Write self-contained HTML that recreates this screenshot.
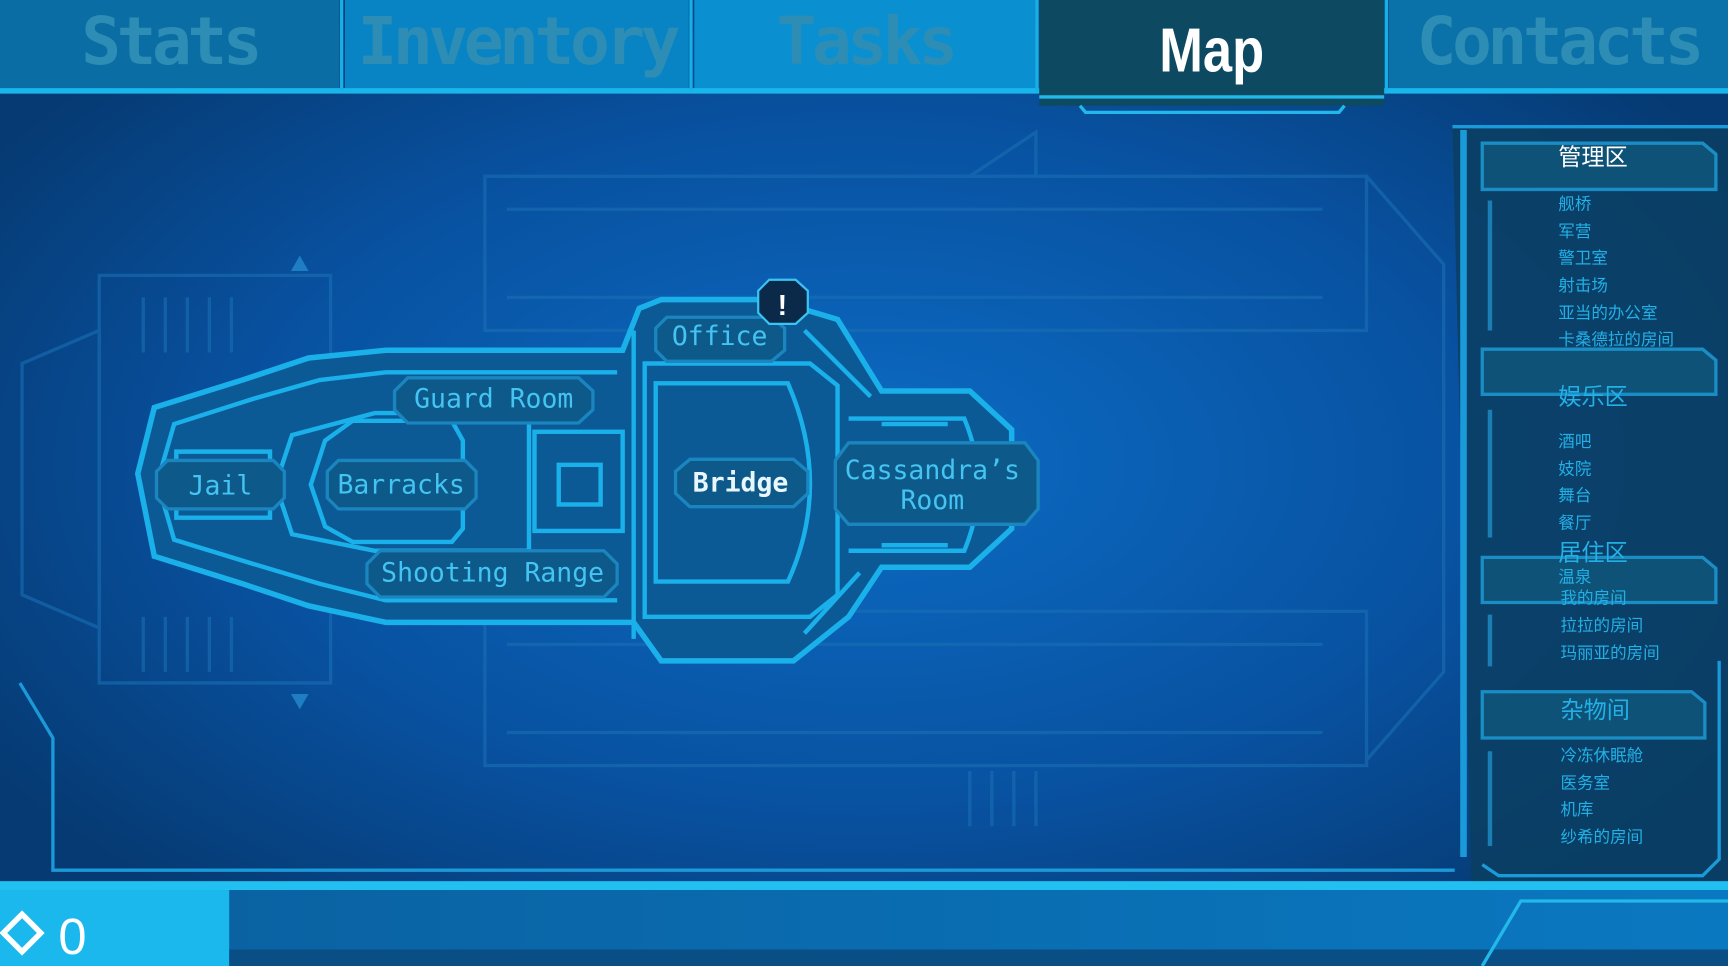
<!DOCTYPE html>
<html><head><meta charset="utf-8"><style>
html,body{margin:0;padding:0;width:1728px;height:966px;overflow:hidden;background:#063a70}
#w{position:absolute;left:0;top:0;width:1568px;height:877px;transform:scale(1.10204,1.1015);transform-origin:0 0;font-family:"Liberation Sans","Noto Sans CJK SC",sans-serif}
.tab{position:absolute;top:0;height:80px;color:#2d8db5;font-family:"DejaVu Sans Mono","Liberation Mono",monospace;font-weight:bold;font-size:60px;text-align:center;line-height:76px;letter-spacing:-4px}
.side{position:absolute;font-size:15px;color:#22b0e6;left:1414px}
.hd{position:absolute;font-size:21px;color:#22b0e6;}
</style></head><body><div id="w">
<svg width="1568" height="877" style="position:absolute;left:0;top:0">
<defs>
<radialGradient id="bg" cx="0.5" cy="0.48" r="0.6"><stop offset="0" stop-color="#0c6cc4"/><stop offset="0.6" stop-color="#0851a0"/><stop offset="1" stop-color="#063a72"/></radialGradient>
<linearGradient id="bot" x1="0" x2="1"><stop offset="0" stop-color="#0a5f9e"/><stop offset="1" stop-color="#0a78c0"/></linearGradient>
</defs>
<rect width="1568" height="877" fill="url(#bg)"/>
<g fill="none" stroke="#1a6fb4" stroke-width="3" opacity="0.6">
<rect x="440" y="160" width="800" height="140"/><rect x="440" y="555" width="800" height="140"/>
<path d="M460 190 H1200 M460 270 H1200 M460 585 H1200 M460 665 H1200"/>
<path d="M90 250 H300 V620 H90 Z"/><path d="M20 330 L90 300 V570 L20 540Z"/>
<path d="M130 270 V320 M150 270 V320 M170 270 V320 M190 270 V320 M210 270 V320 M130 560 V610 M150 560 V610 M170 560 V610 M190 560 V610 M210 560 V610"/>
<path d="M880 160 L940 120 V160 M880 700 V750 M900 700 V750 M920 700 V750 M940 700 V750"/>
<path d="M1240 160 L1310 240 V610 L1240 690"/>
</g>
<path d="M272 232 L280 246 H264Z M272 644 L280 630 H264Z" fill="#1f7dc4"/>
<path d="M18 620 L48 670 V790 H1320" fill="none" stroke="#1a9ad8" stroke-width="3"/>
<g stroke="#1ab0ea" stroke-width="5" fill="#0b5a96">
<path d="M125 430 L140 370 L220 345 L280 325 L350 318 L565 318 L580 280 L600 272 H700 L760 290 L800 355 L880 355 L918 390 V480 L880 515 L800 515 L770 560 L720 600 H600 L575 565 L350 565 L280 550 L220 530 L140 505 Z"/>
</g>
<g stroke="#1ab0ea" stroke-width="4" fill="none">
<path d="M145 430 L158 385 L230 362 L290 345 L350 338 L560 338"/>
<path d="M145 445 L158 490 L230 512 L290 530 L350 545 L560 545"/>
<path d="M250 440 L265 395 L340 375 L480 375 L480 500 L340 500 L265 485Z"/>
<path d="M282 440 L295 400 L320 382 L410 382 L420 400 V480 L410 492 L320 492 L295 478Z"/>
<rect x="485" y="392" width="80" height="90"/>
<rect x="507" y="422" width="38" height="36"/>
<path d="M575 300 V580 M585 330 H735 L760 350 V540 L735 560 H585 Z"/>
<path d="M595 348 H715 Q755 440 715 528 H595 Z"/>
<path d="M770 380 H875 Q900 440 875 500 H770"/>
<path d="M800 385 H860 M800 495 H860"/>
<path d="M730 300 L790 360 M730 575 L780 520"/>
<path d="M160 410 H245 V470 H160Z"/>
</g>
<g fill="#0d5a8a" stroke="#1a85be" stroke-width="3">
<path d="M605 288 H700 L712 298 V318 L700 328 H605 L595 318 V298Z"/>
<path d="M370 343 H525 L538 355 V372 L525 384 H370 L358 372 V355Z"/>
<path d="M152 418 H248 L258 428 V452 L248 462 H152 L142 452 V428Z"/>
<path d="M307 418 H422 L432 428 V452 L422 462 H307 L297 452 V428Z"/>
<path d="M626 417 H720 L733 428 V448 L720 460 H626 L613 448 V428Z"/>
<path d="M770 402 H930 L942 418 V462 L930 476 H770 L758 462 V418Z"/>
<path d="M345 500 H548 L560 512 V530 L548 542 H345 L333 530 V512Z"/>
</g>
<path d="M698 254 H722 L733 264 V284 L722 294 H698 L688 284 V264Z" fill="#0b2a4a" stroke="#3ac4f4" stroke-width="2"/>
<text x="710" y="286" fill="#fff" font-size="26" font-family="Liberation Sans" text-anchor="middle" font-weight="bold">!</text>
<g font-family="DejaVu Sans Mono,Liberation Mono,monospace" font-size="24" fill="#44c4f2" text-anchor="middle">
<text x="653" y="313">Office</text>
<text x="448" y="370">Guard Room</text>
<text x="200" y="449">Jail</text>
<text x="364" y="448">Barracks</text>
<text x="672" y="446" fill="#e8f6ff" font-weight="bold">Bridge</text>
<text x="846" y="435">Cassandra’s</text>
<text x="846" y="462">Room</text>
<text x="447" y="528">Shooting Range</text>
</g>
<path d="M1318 115 H1568 V800 H1335 Z" fill="#0a3e62" opacity="0.85"/>
<path d="M1328 118 V778" stroke="#1a9ad8" stroke-width="6"/>
<path d="M1318 115 H1568" stroke="#1a9ad8" stroke-width="3"/>
<path d="M1345 785 L1360 795 H1545 L1560 780 V600" fill="none" stroke="#1a9ad8" stroke-width="3"/>
<g fill="#0e5278" stroke="#1a8ec4" stroke-width="3">
<path d="M1345 130 H1545 L1557 140 V172 H1345Z"/>
<path d="M1345 317 H1545 L1557 327 V358 H1345Z"/>
<path d="M1345 506 H1545 L1557 516 V547 H1345Z"/>
<path d="M1345 628 H1535 L1547 638 V670 H1345Z"/>
</g>
<g stroke="#1a7eb4" stroke-width="4"><path d="M1352 182 V300 M1352 372 V488 M1352 558 V605 M1352 682 V768"/></g>
<rect x="0" y="0" width="308" height="82" fill="#0a6ea4"/>
<rect x="313" y="0" width="312" height="82" fill="#0884c4"/>
<rect x="630" y="0" width="310" height="82" fill="#0a8fd0"/>
<rect x="1260" y="0" width="308" height="82" fill="#0a72a8"/>
<rect x="0" y="80" width="1568" height="5" fill="#18b6ea"/>
<rect x="943" y="0" width="313" height="96" fill="#0d4a62"/>
<path d="M943 88 H1256 M980 96 L985 102 H1215 L1220 96" stroke="#22b8ea" stroke-width="3" fill="none"/>
<path d="M310 0 V82 M627 0 V82 M941 0 V82 M1258 0 V82" stroke="#16b0e6" stroke-width="3"/>
<rect x="0" y="800" width="1568" height="77" fill="url(#bot)"/>
<rect x="0" y="800" width="1568" height="8" fill="#22c0f0"/>
<rect x="0" y="808" width="208" height="69" fill="#1ab8ec"/>
<rect x="208" y="862" width="1360" height="15" fill="#0a4e86"/>
<path d="M1345 877 L1380 818 H1568" stroke="#22b8ea" stroke-width="3" fill="none"/>
<path d="M20 830 L37 847 L20 864 L3 847Z" fill="none" stroke="#fff" stroke-width="5"/>
<text x="53" y="866" fill="#fff" font-size="46" font-family="Liberation Sans">0</text>
</svg>
<div class="tab" style="left:0;width:308px">Stats</div>
<div class="tab" style="left:313px;width:312px">Inventory</div>
<div class="tab" style="left:630px;width:310px">Tasks</div>
<div class="tab" style="left:943px;width:313px;color:#fff;line-height:92px;font-family:'Liberation Sans',sans-serif;font-size:56px;letter-spacing:0;transform:scaleX(0.85)">Map</div>
<div class="tab" style="left:1260px;width:308px">Contacts</div>
<div class="hd" style="left:1414px;top:127px;color:#fff">管理区</div>
<div class="side" style="top:174px">舰桥</div>
<div class="side" style="top:199px">军营</div>
<div class="side" style="top:223px">警卫室</div>
<div class="side" style="top:248px">射击场</div>
<div class="side" style="top:273px">亚当的办公室</div>
<div class="side" style="top:297px">卡桑德拉的房间</div>
<div class="hd" style="left:1414px;top:344px">娱乐区</div>
<div class="side" style="top:390px">酒吧</div>
<div class="side" style="top:415px">妓院</div>
<div class="side" style="top:439px">舞台</div>
<div class="side" style="top:464px">餐厅</div>
<div class="hd" style="left:1414px;top:486px">居住区</div>
<div class="side" style="top:513px">温泉</div>
<div class="side" style="top:532px;left:1416px">我的房间</div>
<div class="side" style="top:557px;left:1416px">拉拉的房间</div>
<div class="side" style="top:582px;left:1416px">玛丽亚的房间</div>
<div class="hd" style="left:1416px;top:629px">杂物间</div>
<div class="side" style="top:675px;left:1416px">冷冻休眠舱</div>
<div class="side" style="top:700px;left:1416px">医务室</div>
<div class="side" style="top:724px;left:1416px">机库</div>
<div class="side" style="top:749px;left:1416px">纱希的房间</div>
</div></body></html>
